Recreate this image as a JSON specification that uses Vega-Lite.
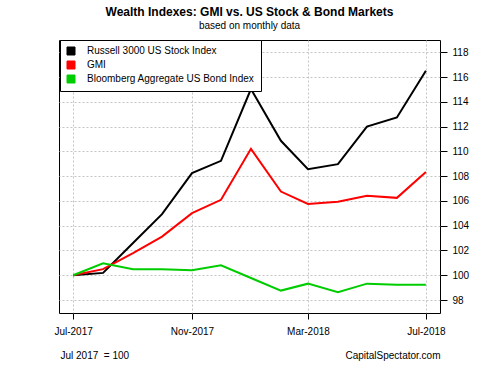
{
  "$schema": "https://vega.github.io/schema/vega-lite/v6.json",
  "width": 381,
  "height": 273,
  "autosize": {"type": "none"},
  "padding": {"left": 59, "top": 40, "right": 60, "bottom": 62},
  "background": "white",
  "config": {
    "view": {"stroke": "black", "strokeWidth": 1},
    "font": "Liberation Sans"
  },
  "title": {
    "text": "Wealth Indexes: GMI vs. US Stock & Bond Markets",
    "subtitle": "based on monthly data",
    "font": "Liberation Sans",
    "subtitleFont": "Liberation Sans",
    "fontSize": 12,
    "fontWeight": "bold",
    "subtitleFontSize": 10,
    "subtitlePadding": 2,
    "color": "#000000",
    "subtitleColor": "#000000",
    "anchor": "middle",
    "offset": 8
  },
  "data": {
    "values": [
      {"date": "2017-07-01", "series": "Russell 3000 US Stock Index", "value": 100},
      {"date": "2017-08-01", "series": "Russell 3000 US Stock Index", "value": 100.19},
      {"date": "2017-09-01", "series": "Russell 3000 US Stock Index", "value": 102.6},
      {"date": "2017-10-01", "series": "Russell 3000 US Stock Index", "value": 104.93},
      {"date": "2017-11-01", "series": "Russell 3000 US Stock Index", "value": 108.25},
      {"date": "2017-12-01", "series": "Russell 3000 US Stock Index", "value": 109.24},
      {"date": "2018-01-01", "series": "Russell 3000 US Stock Index", "value": 115.04},
      {"date": "2018-02-01", "series": "Russell 3000 US Stock Index", "value": 110.86},
      {"date": "2018-03-01", "series": "Russell 3000 US Stock Index", "value": 108.57},
      {"date": "2018-04-01", "series": "Russell 3000 US Stock Index", "value": 108.97},
      {"date": "2018-05-01", "series": "Russell 3000 US Stock Index", "value": 112.01},
      {"date": "2018-06-01", "series": "Russell 3000 US Stock Index", "value": 112.74},
      {"date": "2018-07-01", "series": "Russell 3000 US Stock Index", "value": 116.51},
      {"date": "2017-07-01", "series": "GMI", "value": 100},
      {"date": "2017-08-01", "series": "GMI", "value": 100.49},
      {"date": "2017-09-01", "series": "GMI", "value": 101.78},
      {"date": "2017-10-01", "series": "GMI", "value": 103.12},
      {"date": "2017-11-01", "series": "GMI", "value": 105.01},
      {"date": "2017-12-01", "series": "GMI", "value": 106.09},
      {"date": "2018-01-01", "series": "GMI", "value": 110.21},
      {"date": "2018-02-01", "series": "GMI", "value": 106.76},
      {"date": "2018-03-01", "series": "GMI", "value": 105.76},
      {"date": "2018-04-01", "series": "GMI", "value": 105.93},
      {"date": "2018-05-01", "series": "GMI", "value": 106.41},
      {"date": "2018-06-01", "series": "GMI", "value": 106.25},
      {"date": "2018-07-01", "series": "GMI", "value": 108.33},
      {"date": "2017-07-01", "series": "Bloomberg Aggregate US Bond Index", "value": 100},
      {"date": "2017-08-01", "series": "Bloomberg Aggregate US Bond Index", "value": 100.97},
      {"date": "2017-09-01", "series": "Bloomberg Aggregate US Bond Index", "value": 100.49},
      {"date": "2017-10-01", "series": "Bloomberg Aggregate US Bond Index", "value": 100.49},
      {"date": "2017-11-01", "series": "Bloomberg Aggregate US Bond Index", "value": 100.4},
      {"date": "2017-12-01", "series": "Bloomberg Aggregate US Bond Index", "value": 100.81},
      {"date": "2018-01-01", "series": "Bloomberg Aggregate US Bond Index", "value": 99.78},
      {"date": "2018-02-01", "series": "Bloomberg Aggregate US Bond Index", "value": 98.76},
      {"date": "2018-03-01", "series": "Bloomberg Aggregate US Bond Index", "value": 99.32},
      {"date": "2018-04-01", "series": "Bloomberg Aggregate US Bond Index", "value": 98.62},
      {"date": "2018-05-01", "series": "Bloomberg Aggregate US Bond Index", "value": 99.32},
      {"date": "2018-06-01", "series": "Bloomberg Aggregate US Bond Index", "value": 99.24},
      {"date": "2018-07-01", "series": "Bloomberg Aggregate US Bond Index", "value": 99.24}
    ]
  },
  "encoding": {
    "y": {
      "field": "value",
      "type": "quantitative",
      "scale": {"domain": [96.95, 119.0], "nice": false, "zero": false},
      "axis": {
        "orient": "right",
        "values": [98, 100, 102, 104, 106, 108, 110, 112, 114, 116, 118],
        "labelOverlap": false,
        "labelFontSize": 10,
        "labelFont": "Liberation Sans",
        "labelColor": "#000000",
        "labelPadding": 5,
        "tickSize": 7,
        "tickColor": "#000000",
        "domain": false,
        "grid": true,
        "gridDash": [2, 2],
        "gridColor": "#c4c4c4",
        "title": null
      }
    }
  },
  "layer": [
    {
      "mark": {"type": "line", "strokeWidth": 2, "clip": true},
      "encoding": {
        "x": {
          "field": "date",
          "type": "temporal",
          "scale": {
            "type": "utc",
            "domain": [
              {"year": 2017, "month": 6, "date": 16, "hours": 9, "minutes": 36, "utc": true},
              {"year": 2018, "month": 7, "date": 15, "hours": 14, "minutes": 24, "utc": true}
            ]
          },
          "axis": {
            "orient": "bottom",
            "values": [
              {"year": 2017, "month": 7, "date": 1, "utc": true},
              {"year": 2017, "month": 11, "date": 1, "utc": true},
              {"year": 2018, "month": 3, "date": 1, "utc": true},
              {"year": 2018, "month": 7, "date": 1, "utc": true}
            ],
            "format": "%b-%Y",
            "labelFlush": false,
            "labelOverlap": false,
            "labelFontSize": 10,
            "labelFont": "Liberation Sans",
            "labelColor": "#000000",
            "labelPadding": 7,
            "tickSize": 6,
            "tickColor": "#000000",
            "domain": false,
            "grid": true,
            "gridDash": [2, 2],
            "gridColor": "#c4c4c4",
            "title": "CapitalSpectator.com",
            "titleFont": "Liberation Sans",
            "titleFontSize": 10,
            "titleFontWeight": "normal",
            "titleColor": "#000000",
            "titleAnchor": "end",
            "titleAlign": "right",
            "titleBaseline": "alphabetic",
            "titleX": 381,
            "titleY": 45
          }
        },
        "color": {
          "field": "series",
          "type": "nominal",
          "scale": {
            "domain": ["Russell 3000 US Stock Index", "GMI", "Bloomberg Aggregate US Bond Index"],
            "range": ["#000000", "#ff0000", "#00cd00"]
          },
          "legend": {
            "orient": "none",
            "legendX": 1,
            "legendY": 0,
            "title": null,
            "fillColor": "white",
            "strokeColor": "black",
            "padding": 6,
            "symbolType": "square",
            "symbolSize": 64,
            "symbolStrokeWidth": 1,
            "labelFontSize": 10,
            "labelFont": "Liberation Sans",
            "labelColor": "#000000",
            "labelLimit": 0,
            "labelOffset": 11,
            "rowPadding": 2,
            "encode": {
              "symbols": {
                "update": {
                  "fill": {"scale": "color", "field": "value"},
                  "stroke": {"value": "black"},
                  "strokeWidth": {"value": 1},
                  "opacity": {"value": 1}
                }
              }
            }
          }
        }
      }
    },
    {
      "mark": {"type": "point", "opacity": 0},
      "encoding": {
        "x": {
          "field": "date",
          "type": "temporal",
          "scale": {
            "type": "utc",
            "domain": [
              {"year": 2017, "month": 6, "date": 16, "hours": 9, "minutes": 36, "utc": true},
              {"year": 2018, "month": 7, "date": 15, "hours": 14, "minutes": 24, "utc": true}
            ]
          },
          "axis": {
            "orient": "bottom",
            "labels": false,
            "ticks": false,
            "domain": false,
            "grid": false,
            "title": "Jul 2017\u00a0 = 100",
            "titleFont": "Liberation Sans",
            "titleFontSize": 10,
            "titleFontWeight": "normal",
            "titleColor": "#000000",
            "titleAnchor": "start",
            "titleAlign": "left",
            "titleBaseline": "alphabetic",
            "titleX": 1,
            "titleY": 45
          }
        }
      }
    }
  ],
  "resolve": {"scale": {"x": "independent"}, "axis": {"x": "independent"}}
}
